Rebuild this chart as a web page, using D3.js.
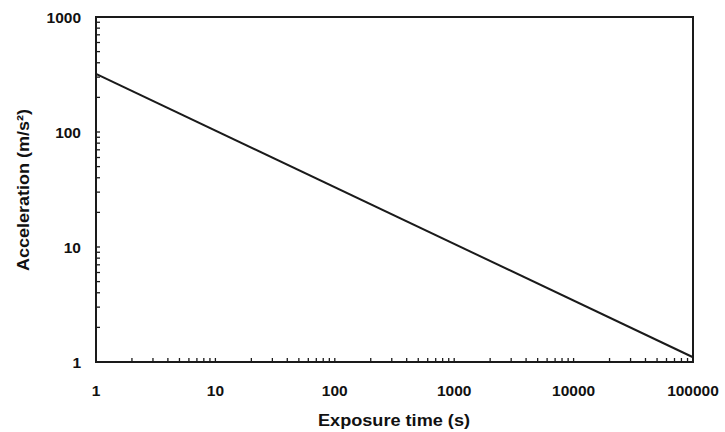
<!DOCTYPE html>
<html lang="en">
  <head>
    <meta charset="utf-8">
    <title>Acceleration vs exposure time</title>
    <script src="https://d3js.org/d3.v7.min.js"></script>
    <style>
      body { margin: 0; background: #fff; }
      text { font-family: "Liberation Sans", Arial, sans-serif; font-weight: bold; fill: #111; }
    </style>
  </head>

  <body>

  <script>

// Tolerance curve: acceleration against exposure time (log-log)

  var w = 725;
  var h = 432;

  var exposureTime = [1, 100000];          // s
  var acceleration = [320, 1.1];           // m/s^2
  var xTicks = [1, 10, 100, 1000, 10000, 100000];
  var yTicks = [1, 10, 100, 1000];

  var margin = {top: 17, right: 32, bottom: 70, left: 96};

  var svg = d3.select("body")
    .append("svg")
      .attr("width", w)
      .attr("height", h);

  var xScale = d3.scaleLog()
    .domain([1, 100000])
    .range([margin.left, w - margin.right]);

  var yScale = d3.scaleLog()
    .domain([1, 1000])
    .range([h - margin.bottom, margin.top]);

  // minor ticks for every 1..9 step inside each decade
  var xMinor = xScale.ticks();
  var yMinor = yScale.ticks();

  var ink = "#1a1a1a";

  svg.append("g")
    .selectAll("line")
    .data(xMinor)
    .enter().append("line")
      .attr("x1", d => xScale(d))
      .attr("x2", d => xScale(d))
      .attr("y1", yScale(1))
      .attr("y2", yScale(1) - 4)
      .attr("stroke", ink)
      .attr("stroke-width", 1.3);

  svg.append("g")
    .selectAll("line")
    .data(yMinor)
    .enter().append("line")
      .attr("x1", xScale(1))
      .attr("x2", xScale(1) + 4)
      .attr("y1", d => yScale(d))
      .attr("y2", d => yScale(d))
      .attr("stroke", ink)
      .attr("stroke-width", 1.3);

  // frame
  svg.append("rect")
    .attr("x", xScale(1))
    .attr("y", yScale(1000))
    .attr("width", xScale(100000) - xScale(1))
    .attr("height", yScale(1) - yScale(1000))
    .attr("fill", "none")
    .attr("stroke", ink)
    .attr("stroke-width", 2);

  // tick labels
  svg.append("g")
    .selectAll("text")
    .data(xTicks)
    .enter().append("text")
      .attr("x", d => xScale(d))
      .attr("y", yScale(1) + 34)
      .attr("text-anchor", "middle")
      .attr("font-size", 15.5)
      .text(d => d);

  svg.append("g")
    .selectAll("text")
    .data(yTicks)
    .enter().append("text")
      .attr("x", xScale(1) - 15)
      .attr("y", d => yScale(d) + 6)
      .attr("text-anchor", "end")
      .attr("font-size", 15.5)
      .text(d => d);

  // the line
  var line = d3.line()
    .x((d, i) => xScale(exposureTime[i]))
    .y(d => yScale(d));

  svg.append("path")
    .datum(acceleration)
    .attr("d", line)
    .attr("fill", "none")
    .attr("stroke", ink)
    .attr("stroke-width", 2);

  // axis titles
  svg.append("text")
    .attr("x", 394)
    .attr("y", 426)
    .attr("text-anchor", "middle")
    .attr("font-size", 16)
    .attr("textLength", 152)
    .attr("lengthAdjust", "spacingAndGlyphs")
    .text("Exposure time (s)");

  svg.append("text")
    .attr("transform", "translate(29,190) rotate(-90)")
    .attr("text-anchor", "middle")
    .attr("font-size", 16)
    .attr("textLength", 162)
    .attr("lengthAdjust", "spacingAndGlyphs")
    .text("Acceleration (m/s²)");

  </script>

  </body>

</html>
